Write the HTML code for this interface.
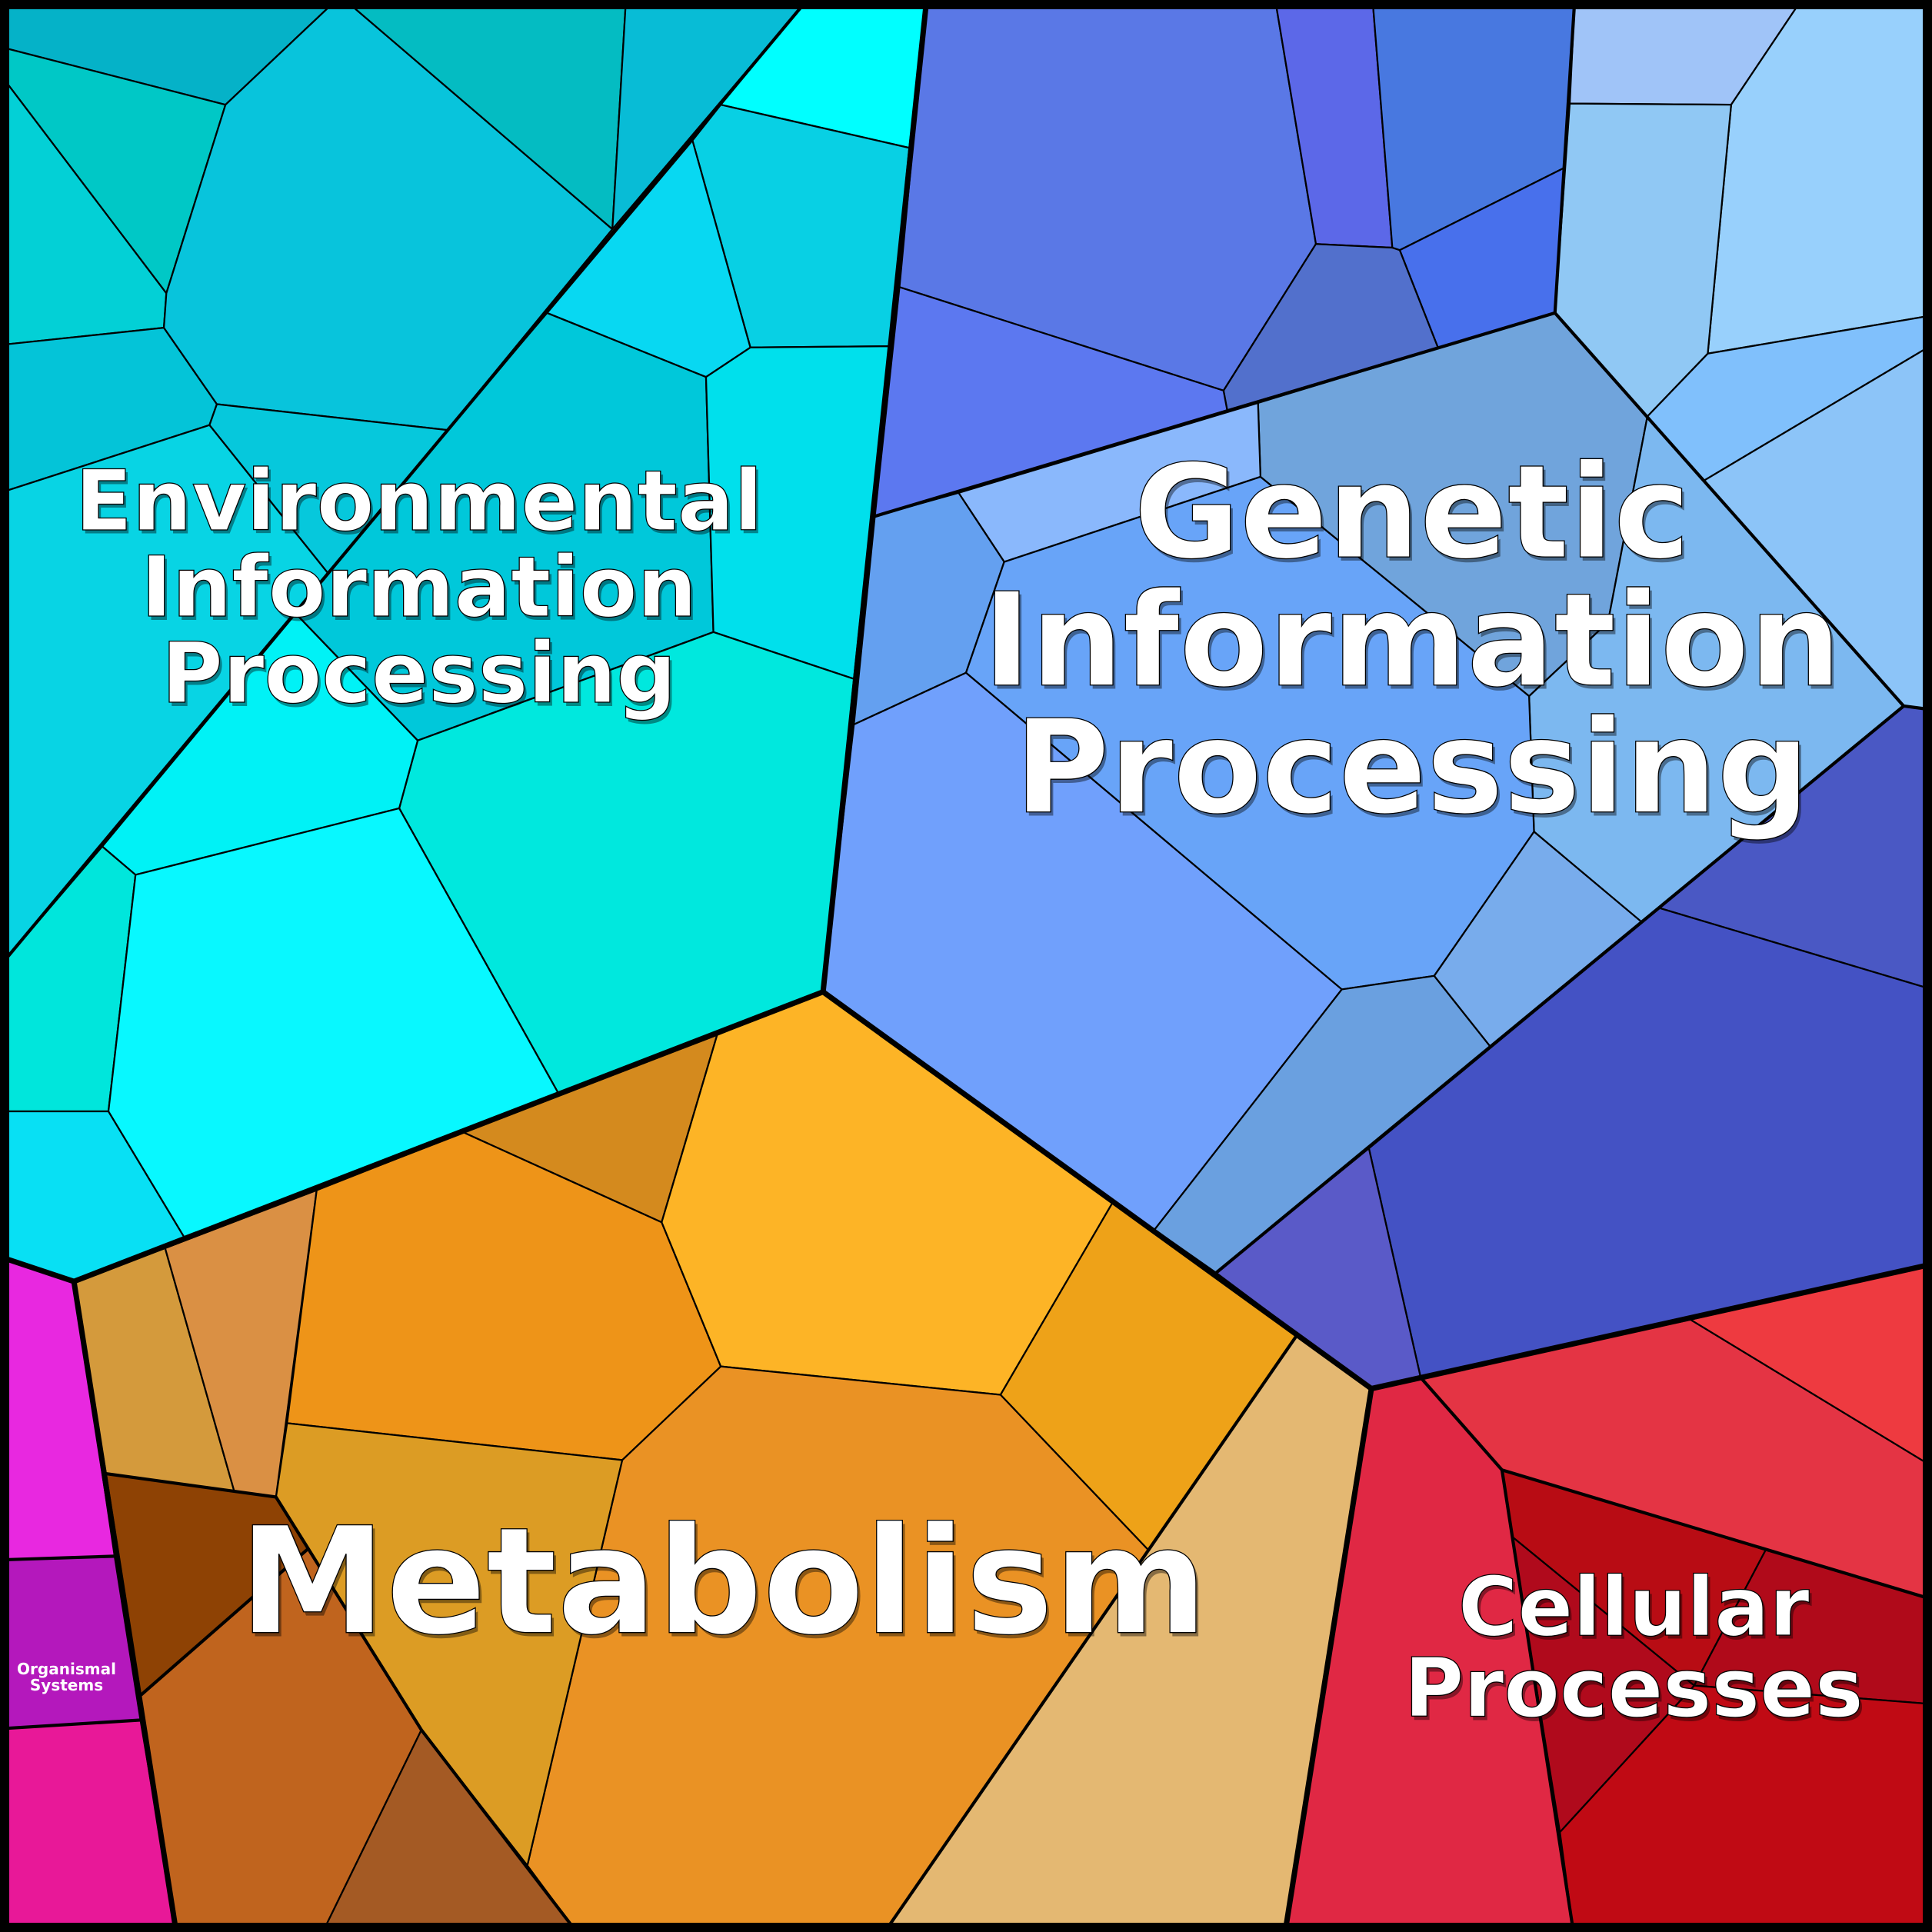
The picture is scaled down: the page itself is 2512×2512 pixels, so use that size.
<!DOCTYPE html>
<html><head><meta charset="utf-8"><style>html,body{margin:0;padding:0;background:#fff}svg{display:block}</style></head>
<body>
<svg xmlns="http://www.w3.org/2000/svg" width="2512" height="2512" viewBox="0 0 1568 1568">
<g stroke="#000" stroke-width="1.4" stroke-linejoin="round">
<!-- Environmental -->
<polygon fill="#05b2c8" points="0,0 273,0 183,85 0,38"/>
<polygon fill="#00c8c6" points="0,38 183,85 135,238 0,60"/>
<polygon fill="#03d0d6" points="0,60 135,238 133,266 0,280"/>
<polygon fill="#04c4d8" points="0,280 133,266 176,328 170,345 0,400"/>
<polygon fill="#08c4dc" points="273,0 280,0 497,186 363,349 176,328 133,266 135,238 183,85"/>
<polygon fill="#04bcc2" points="280,0 508,0 497,186"/>
<polygon fill="#08bcd6" points="508,0 655,0 497,186"/>
<polygon fill="#00ffff" points="655,0 752,0 738,120 585,85"/>
<polygon fill="#08d0e4" points="585,85 738,120 722,281 609,282 562,114"/>
<polygon fill="#08d8f2" points="562,114 609,282 573,306 444,254"/>
<polygon fill="#00c8da" points="444,254 573,306 579,513 339,601 240,498 363,349"/>
<polygon fill="#06c8dc" points="176,328 363,349 266,465 170,345"/>
<polygon fill="#08d4e4" points="0,400 170,345 266,465 240,498 83,687 0,784"/>
<polygon fill="#00e0ec" points="722,281 693,551 579,513 573,306 609,282"/>
<polygon fill="#00e8de" points="579,513 693,551 668,805 453,887 324,656 339,601"/>
<polygon fill="#00f2f6" points="240,498 339,601 324,656 110,710 83,687"/>
<polygon fill="#00e6dc" points="0,784 83,687 110,710 88,902 0,902"/>
<polygon fill="#08f8ff" points="110,710 324,656 453,887 150,1005 88,902"/>
<polygon fill="#08e0f4" points="0,902 88,902 150,1005 60,1040 0,1020"/>
<!-- Genetic -->
<polygon fill="#5a78e6" points="752,0 1035,0 1068,198 993,317 730,233"/>
<polygon fill="#5c68e8" points="1035,0 1114,0 1130,201 1068,198"/>
<polygon fill="#4878e0" points="1114,0 1278,0 1270,136 1136,203 1130,201"/>
<polygon fill="#4870ec" points="1136,203 1270,136 1262,254 1167,282"/>
<polygon fill="#5270cc" points="1068,198 1130,201 1136,203 1167,282 996,333 993,317"/>
<polygon fill="#5c78f0" points="730,233 993,317 996,333 710,419"/>
<polygon fill="#a0c4f8" points="1278,0 1462,0 1405,85 1274,84"/>
<polygon fill="#98d0fc" points="1462,0 1568,0 1568,256 1386,287 1405,85"/>
<polygon fill="#90c8f4" points="1274,84 1405,85 1386,287 1337,338 1262,254"/>
<polygon fill="#80c0fc" points="1386,287 1568,256 1568,280 1383,390 1337,338"/>
<polygon fill="#8cc4f8" points="1383,390 1568,280 1568,576 1545,573"/>
<polygon fill="#70a4dc" points="1021,327 1262,254 1337,338 1305,505 1241,565 1023,387"/>
<polygon fill="#7cb8f0" points="1337,338 1545,573 1332,748 1245,675 1241,565 1305,505"/>
<polygon fill="#8ab8fc" points="778,400 1021,327 1023,387 815,456"/>
<polygon fill="#64a0f0" points="710,419 778,400 815,456 784,546 693,588"/>
<polygon fill="#68a4f8" points="815,456 1023,387 1241,565 1245,675 1164,792 1089,803 784,546"/>
<polygon fill="#70a0fc" points="693,588 784,546 1089,803 937,998 668,805"/>
<polygon fill="#6aa0e0" points="1089,803 1164,792 1210,850 987,1033 937,998"/>
<polygon fill="#78acec" points="1164,792 1245,675 1332,748 1210,850"/>
<polygon fill="#4a58c4" points="1347,737 1545,573 1568,576 1568,803"/>
<polygon fill="#4452c4" points="1347,737 1568,803 1568,1026 1153,1118 1111,932"/>
<polygon fill="#5a5ac8" points="1111,932 1153,1118 1113,1127 987,1033"/>
<!-- Metabolism -->
<polygon fill="#d49a3c" points="60,1040 134,1013 190,1210 86,1196"/>
<polygon fill="#da9044" points="134,1013 257,966 224,1215 190,1210"/>
<polygon fill="#d48a1e" points="376,919 582,840 537,992"/>
<polygon fill="#ee9418" points="257,966 376,919 537,992 585,1109 505,1185 233,1155"/>
<polygon fill="#fdb426" points="582,840 668,805 903,976 812,1132 585,1109 537,992"/>
<polygon fill="#eea218" points="903,976 1053,1083 932,1258 812,1132"/>
<polygon fill="#e4b872" points="1053,1083 1113,1127 1043,1568 718,1568 932,1258"/>
<polygon fill="#ea9224" points="585,1109 812,1132 932,1258 718,1568 468,1568 428,1514 505,1185"/>
<polygon fill="#dc9c24" points="233,1155 505,1185 428,1514 342,1404 224,1215"/>
<polygon fill="#8e4204" points="86,1196 224,1215 250,1257 114,1376"/>
<polygon fill="#c0641e" points="114,1376 250,1257 342,1404 262,1568 143,1568"/>
<polygon fill="#a45a24" points="342,1404 468,1568 262,1568"/>
<!-- Organismal -->
<polygon fill="#e828e0" points="0,1020 60,1040 93,1263 0,1266"/>
<polygon fill="#b418bc" points="0,1266 93,1263 114,1396 0,1403"/>
<polygon fill="#e81898" points="0,1403 114,1396 143,1568 0,1568"/>
<!-- Cellular -->
<polygon fill="#e43444" points="1153,1118 1372,1071 1568,1190 1568,1298 1219,1193"/>
<polygon fill="#ee3a40" points="1372,1071 1568,1026 1568,1190"/>
<polygon fill="#e02844" points="1113,1127 1153,1118 1219,1193 1277,1568 1043,1568"/>
<polygon fill="#b80c14" points="1219,1193 1433,1258 1375,1368 1227,1247"/>
<polygon fill="#b00a1c" points="1227,1247 1375,1368 1266,1487"/>
<polygon fill="#b00a1a" points="1433,1258 1568,1298 1568,1383 1375,1368"/>
<polygon fill="#c00a14" points="1266,1487 1375,1368 1568,1383 1568,1568 1277,1568"/>
</g>
<g fill="none" stroke="#000" stroke-width="2.6" stroke-linejoin="round">
<polyline points="655,0 0,784"/>
<polyline points="710,419 1262,254"/>
<polyline points="1278,0 1262,254 1545,573 1568,576"/>
<polyline points="1545,573 987,1033"/>
<polyline points="1053,1083 718,1568"/>
<polyline points="86,1196 224,1215 342,1404 468,1568"/>
<polyline points="114,1376 250,1257"/>
<polyline points="1153,1118 1219,1193 1568,1298"/>
<polyline points="1219,1193 1277,1568"/>
<polyline points="93,1263 0,1266"/>
<polyline points="114,1396 0,1403"/>
</g>
<g fill="none" stroke="#000" stroke-width="4.4" stroke-linejoin="round">
<polyline points="752,0 668,805"/>
<polyline points="0,1020 60,1040 668,805 1113,1127 1568,1026"/>
<polyline points="1113,1127 1043,1568"/>
<polyline points="60,1040 143,1568"/>
</g>
<rect x="0" y="0" width="1568" height="1568" fill="none" stroke="#000" stroke-width="15"/>
<g font-family="DejaVu Sans, Liberation Sans, sans-serif" font-weight="bold" text-anchor="middle">
<g fill="#000" opacity="0.4" transform="translate(2,3)">
<text x="340" y="430" font-size="68">Environmental</text>
<text x="340" y="500" font-size="68">Information</text>
<text x="340" y="570" font-size="68">Processing</text>
<text x="1146" y="452" font-size="105">Genetic</text>
<text x="1146" y="556" font-size="105">Information</text>
<text x="1146" y="659" font-size="105">Processing</text>
<text x="587" y="1325" font-size="120">Metabolism</text>
<text x="1326" y="1327" font-size="66">Cellular</text>
<text x="1326" y="1393" font-size="66">Processes</text>
</g>
<g fill="#fff" stroke="#000" stroke-width="0.8">
<text x="340" y="430" font-size="68">Environmental</text>
<text x="340" y="500" font-size="68">Information</text>
<text x="340" y="570" font-size="68">Processing</text>
<text x="1146" y="452" font-size="105">Genetic</text>
<text x="1146" y="556" font-size="105">Information</text>
<text x="1146" y="659" font-size="105">Processing</text>
<text x="587" y="1325" font-size="120">Metabolism</text>
<text x="1326" y="1327" font-size="66">Cellular</text>
<text x="1326" y="1393" font-size="66">Processes</text>
</g>
<g fill="#fff" font-size="12.5">
<text x="54" y="1359">Organismal</text>
<text x="54" y="1372">Systems</text>
</g>
</g>
</svg>
</body></html>
